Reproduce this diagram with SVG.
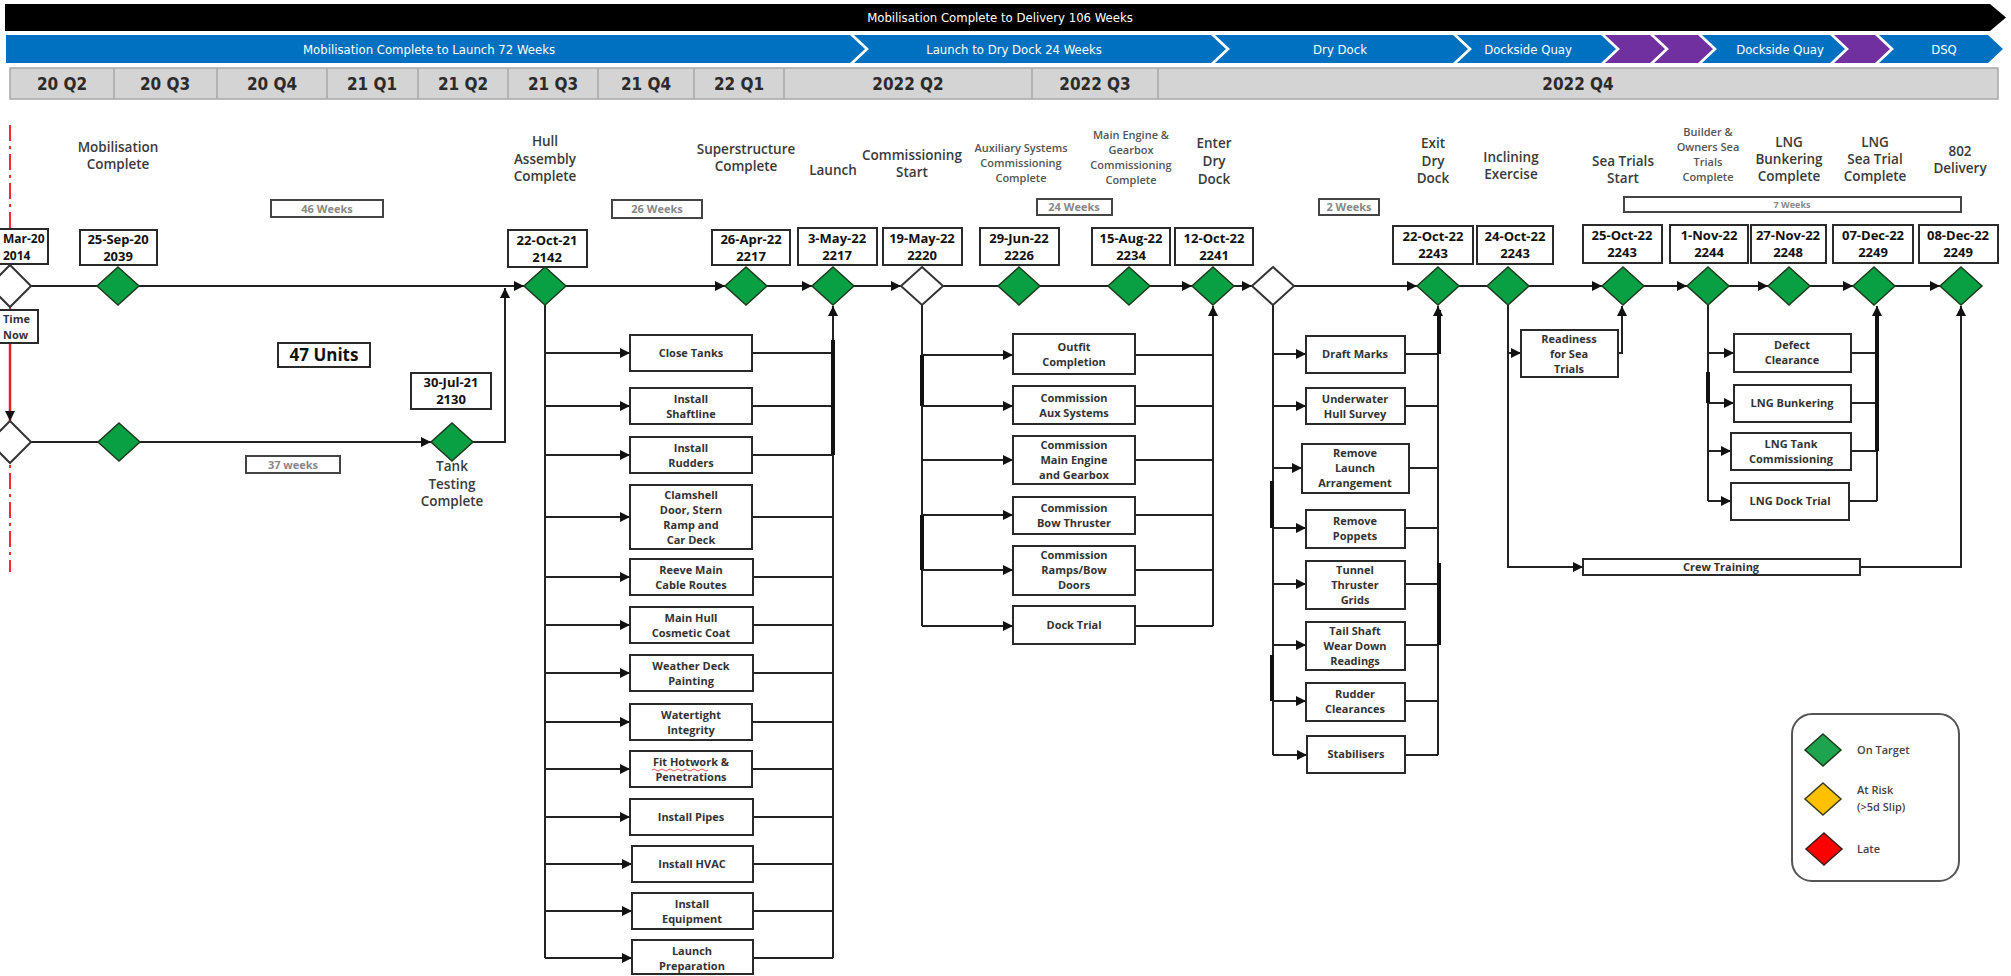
<svg xmlns="http://www.w3.org/2000/svg" width="2011" height="976" viewBox="0 0 2011 976">
<defs>
<marker id="arr" viewBox="0 0 10 10" refX="10" refY="5" markerWidth="10" markerHeight="10" markerUnits="userSpaceOnUse" orient="auto">
<path d="M0,0 L10,5 L0,10 z" fill="#111"/>
</marker>
<style>
.hdr{font-family:'Liberation Sans Narrow','DejaVu Sans Condensed','Liberation Sans',sans-serif;font-size:13px;fill:#fff;text-anchor:middle}
.q{font-family:'Liberation Sans Narrow','DejaVu Sans Condensed','Liberation Sans',sans-serif;font-size:17px;font-weight:bold;fill:#2b2b2b;text-anchor:middle}
.lbl{font-family:'Open Sans','Liberation Sans',sans-serif;font-size:13.5px;font-weight:600;fill:#3a3a3a;text-anchor:middle}
.lbls{font-family:'Open Sans','Liberation Sans',sans-serif;font-size:11px;font-weight:600;fill:#555;text-anchor:middle}
.date{font-family:'Open Sans','Liberation Sans',sans-serif;font-size:13px;font-weight:bold;fill:#111;text-anchor:middle}
.task{font-family:'Open Sans','Liberation Sans',sans-serif;font-size:11px;font-weight:bold;fill:#333;text-anchor:middle}
.wk{font-family:'Open Sans','Liberation Sans',sans-serif;font-size:11px;font-weight:bold;fill:#888;text-anchor:middle}
.leg{font-family:'Open Sans','Liberation Sans',sans-serif;font-size:11px;font-weight:600;fill:#444}
.box{fill:#fff;stroke:#2a2a2a;stroke-width:2}
.wbox{fill:#fff;stroke:#444;stroke-width:2}
.g{fill:#08a043;stroke:#1d3b1d;stroke-width:1.5}
.w{fill:#fff;stroke:#333;stroke-width:2}
.c{fill:none;stroke:#222;stroke-width:2}
.ca{fill:none;stroke:#222;stroke-width:2;marker-end:url(#arr)}
.thick{fill:none;stroke:#111;stroke-width:4}
.blue{fill:#0070c0}
.purple{fill:#7030a0}
</style>
</defs>
<rect width="2011" height="976" fill="#fff"/>

<g id="header">
<polygon points="5,4 1990,4 2006,17.5 1990,31 5,31" fill="#000"/>
<text class="hdr" x="1000" y="22">Mobilisation Complete to Delivery 106 Weeks</text>
<polygon class="blue" points="6,35 850,35 865,49 850,63 6,63"/>
<polygon class="blue" points="854,35 1211,35 1226,49 1211,63 854,63 869,49"/>
<polygon class="blue" points="1215,35 1453,35 1468,49 1453,63 1215,63 1230,49"/>
<polygon class="blue" points="1457,35 1601,35 1616,49 1601,63 1457,63 1472,49"/>
<polygon class="purple" points="1605,35 1650,35 1665,49 1650,63 1605,63 1620,49"/>
<polygon class="purple" points="1654,35 1698,35 1713,49 1698,63 1654,63 1669,49"/>
<polygon class="blue" points="1702,35 1830,35 1845,49 1830,63 1702,63 1717,49"/>
<polygon class="purple" points="1834,35 1875,35 1890,49 1875,63 1834,63 1849,49"/>
<polygon class="blue" points="1879,35 1988,35 2003,49 1988,63 1879,63 1894,49"/>
<text class="hdr" x="429" y="54">Mobilisation Complete to Launch 72 Weeks</text>
<text class="hdr" x="1014" y="54">Launch to Dry Dock 24 Weeks</text>
<text class="hdr" x="1340" y="54">Dry Dock</text>
<text class="hdr" x="1528" y="54">Dockside Quay</text>
<text class="hdr" x="1780" y="54">Dockside Quay</text>
<text class="hdr" x="1944" y="54">DSQ</text>
<rect x="10" y="68" width="1988" height="31" fill="#d4d4d4" stroke="#a8a8a8" stroke-width="1.5"/>
<g stroke="#a8a8a8" stroke-width="1.5">
<line x1="114" y1="68" x2="114" y2="99"/><line x1="217" y1="68" x2="217" y2="99"/><line x1="327" y1="68" x2="327" y2="99"/><line x1="418" y1="68" x2="418" y2="99"/><line x1="508" y1="68" x2="508" y2="99"/><line x1="598" y1="68" x2="598" y2="99"/><line x1="694" y1="68" x2="694" y2="99"/><line x1="784" y1="68" x2="784" y2="99"/><line x1="1032" y1="68" x2="1032" y2="99"/><line x1="1158" y1="68" x2="1158" y2="99"/>
</g>
<text class="q" x="62" y="90">20 Q2</text>
<text class="q" x="165" y="90">20 Q3</text>
<text class="q" x="272" y="90">20 Q4</text>
<text class="q" x="372" y="90">21 Q1</text>
<text class="q" x="463" y="90">21 Q2</text>
<text class="q" x="553" y="90">21 Q3</text>
<text class="q" x="646" y="90">21 Q4</text>
<text class="q" x="739" y="90">22 Q1</text>
<text class="q" x="908" y="90">2022 Q2</text>
<text class="q" x="1095" y="90">2022 Q3</text>
<text class="q" x="1578" y="90">2022 Q4</text>
</g>

<g id="timenow">
<line x1="10" y1="125" x2="10" y2="572" stroke="#f03030" stroke-width="2" stroke-dasharray="16,5,3,5"/>
</g>

<g id="connectors">
<path class="c" d="M31,286 H97"/>
<path class="ca" d="M139,286 H524"/>
<path class="ca" d="M566,286 H725"/>
<path class="ca" d="M767,286 H812"/>
<path class="ca" d="M854,286 H901"/>
<path class="c" d="M943,286 H998"/>
<path class="c" d="M1040,286 H1108"/>
<path class="ca" d="M1150,286 H1192"/>
<path class="ca" d="M1234,286 H1252"/>
<path class="ca" d="M1294,286 H1417"/>
<path class="c" d="M1459,286 H1487"/>
<path class="ca" d="M1529,286 H1602"/>
<path class="ca" d="M1644,286 H1687"/>
<path class="ca" d="M1729,286 H1768"/>
<path class="ca" d="M1810,286 H1853"/>
<path class="ca" d="M1895,286 H1940"/>
<path class="c" d="M31,442 H98"/>
<path class="ca" d="M140,442 H431"/>
<path class="ca" d="M473,442 H505 V288"/>
<path d="M10,343 V421" fill="none" stroke="#e82020" stroke-width="2.5" marker-end="url(#arr)"/>
<path class="c" d="M545,305 V958"/>
<path class="ca" d="M545,353 H630"/><path class="ca" d="M545,406 H630"/><path class="ca" d="M545,455 H630"/><path class="ca" d="M545,517 H630"/><path class="ca" d="M545,577 H630"/><path class="ca" d="M545,625 H630"/><path class="ca" d="M545,673 H630"/><path class="ca" d="M545,722 H630"/><path class="ca" d="M545,769 H630"/><path class="ca" d="M545,817 H630"/><path class="ca" d="M545,864 H632"/><path class="ca" d="M545,911 H632"/><path class="ca" d="M545,958 H632"/>
<path class="c" d="M752,353 H833 M752,406 H833 M752,455 H833 M752,517 H833 M752,577 H833 M752,625 H833 M752,673 H833 M752,722 H833 M752,769 H833 M752,817 H833 M752,864 H833 M752,911 H833 M752,958 H833"/>
<path class="ca" d="M833,958 V306"/>
<path class="thick" d="M833,340 V455"/>
<path class="c" d="M922,305 V626"/>
<path class="thick" d="M922,355 V406 M922,515 V570"/>
<path class="ca" d="M922,355 H1013"/><path class="ca" d="M922,406 H1013"/><path class="ca" d="M922,460 H1013"/><path class="ca" d="M922,515 H1013"/><path class="ca" d="M922,570 H1013"/><path class="ca" d="M922,626 H1013"/>
<path class="c" d="M1135,355 H1213 M1135,406 H1213 M1135,460 H1213 M1135,515 H1213 M1135,570 H1213 M1135,626 H1213"/>
<path class="ca" d="M1213,626 V306"/>
<path class="c" d="M1273,305 V755"/>
<path class="thick" d="M1272,481 V528 M1272,655 V701"/>
<path class="ca" d="M1273,354 H1306"/><path class="ca" d="M1273,406 H1306"/><path class="ca" d="M1273,468 H1302"/><path class="ca" d="M1273,528 H1306"/><path class="ca" d="M1273,584 H1306"/><path class="ca" d="M1273,645 H1306"/><path class="ca" d="M1273,701 H1306"/><path class="ca" d="M1273,755 H1307"/>
<path class="c" d="M1405,354 H1438 M1405,406 H1438 M1409,468 H1438 M1405,528 H1438 M1405,584 H1438 M1405,645 H1438 M1405,701 H1438 M1405,755 H1438"/>
<path class="ca" d="M1438,755 V306"/>
<path class="thick" d="M1439,310 V354 M1439,563 V645"/>
<path class="ca" d="M1508,305 V567 H1583"/>
<path class="ca" d="M1508,353 H1521"/>
<path class="ca" d="M1618,353 H1622 V306"/>
<path class="ca" d="M1860,567 H1961 V306"/>
<path class="c" d="M1708,305 V501"/>
<path class="thick" d="M1708,372 V403"/>
<path class="ca" d="M1708,353 H1734"/><path class="ca" d="M1708,403 H1734"/><path class="ca" d="M1708,451 H1731"/><path class="ca" d="M1708,501 H1731"/>
<path class="c" d="M1851,353 H1877 M1851,403 H1877 M1851,451 H1877 M1849,501 H1877"/>
<path class="ca" d="M1877,501 V306"/>
<path class="thick" d="M1877,312 V451"/>
</g>

<g id="labels">
<text class="lbl" x="118" y="152"><tspan x="118">Mobilisation</tspan><tspan x="118" dy="17">Complete</tspan></text>
<text class="lbl" x="545" y="146"><tspan x="545">Hull</tspan><tspan x="545" dy="17.5">Assembly</tspan><tspan x="545" dy="17.5">Complete</tspan></text>
<text class="lbl" x="746" y="154"><tspan x="746">Superstructure</tspan><tspan x="746" dy="17">Complete</tspan></text>
<text class="lbl" x="833" y="175">Launch</text>
<text class="lbl" x="912" y="160"><tspan x="912">Commissioning</tspan><tspan x="912" dy="17">Start</tspan></text>
<text class="lbls" x="1021" y="152"><tspan x="1021">Auxiliary Systems</tspan><tspan x="1021" dy="15">Commissioning</tspan><tspan x="1021" dy="15">Complete</tspan></text>
<text class="lbls" x="1131" y="139"><tspan x="1131">Main Engine &amp;</tspan><tspan x="1131" dy="15">Gearbox</tspan><tspan x="1131" dy="15">Commissioning</tspan><tspan x="1131" dy="15">Complete</tspan></text>
<text class="lbl" x="1214" y="148"><tspan x="1214">Enter</tspan><tspan x="1214" dy="18">Dry</tspan><tspan x="1214" dy="18">Dock</tspan></text>
<text class="lbl" x="1433" y="148"><tspan x="1433">Exit</tspan><tspan x="1433" dy="17.5">Dry</tspan><tspan x="1433" dy="17.5">Dock</tspan></text>
<text class="lbl" x="1511" y="162"><tspan x="1511">Inclining</tspan><tspan x="1511" dy="17">Exercise</tspan></text>
<text class="lbl" x="1623" y="166"><tspan x="1623">Sea Trials</tspan><tspan x="1623" dy="17">Start</tspan></text>
<text class="lbls" x="1708" y="136"><tspan x="1708">Builder &amp;</tspan><tspan x="1708" dy="15">Owners Sea</tspan><tspan x="1708" dy="15">Trials</tspan><tspan x="1708" dy="15">Complete</tspan></text>
<text class="lbl" x="1789" y="147"><tspan x="1789">LNG</tspan><tspan x="1789" dy="17">Bunkering</tspan><tspan x="1789" dy="17">Complete</tspan></text>
<text class="lbl" x="1875" y="147"><tspan x="1875">LNG</tspan><tspan x="1875" dy="17">Sea Trial</tspan><tspan x="1875" dy="17">Complete</tspan></text>
<text class="lbl" x="1960" y="156"><tspan x="1960">802</tspan><tspan x="1960" dy="17">Delivery</tspan></text>
<text class="lbl" x="452" y="471"><tspan x="452">Tank</tspan><tspan x="452" dy="17.5">Testing</tspan><tspan x="452" dy="17.5">Complete</tspan></text>
</g>

<g id="durations">
<rect class="wbox" x="271" y="200" width="112" height="17"/><text class="wk" x="327" y="213">46 Weeks</text>
<rect class="wbox" x="612" y="200" width="90" height="18"/><text class="wk" x="657" y="213">26 Weeks</text>
<rect class="wbox" x="1037" y="199" width="75" height="16"/><text class="wk" x="1074" y="211">24 Weeks</text>
<rect class="wbox" x="1319" y="199" width="60" height="16"/><text class="wk" x="1349" y="211">2 Weeks</text>
<rect class="wbox" x="1624" y="197" width="337" height="15"/><text class="wk" x="1792" y="208" style="font-size:9px">7 Weeks</text>
<rect class="wbox" x="246" y="456" width="94" height="17"/><text class="wk" x="293" y="469">37 weeks</text>
<rect class="box" x="278" y="343" width="92" height="24"/><text x="324" y="361" style="font-family:'Open Sans','Liberation Sans',sans-serif;font-size:17px;font-weight:bold;fill:#111;text-anchor:middle">47 Units</text>
</g>

<g id="m-start">
<rect class="box" x="-40" y="229" width="88" height="35"/>
<text class="date" x="3" y="243" style="text-anchor:start;font-size:12px">Mar-20</text>
<text class="date" x="3" y="260" style="text-anchor:start;font-size:12px">2014</text>
<polygon class="w" points="10,265 31,286 10,307 -11,286"/>
<rect class="box" x="-40" y="310" width="78" height="33"/>
<text class="date" x="3" y="323" style="text-anchor:start;font-size:11px;fill:#333">Time</text>
<text class="date" x="3" y="339" style="text-anchor:start;font-size:11px;fill:#333">Now</text>
</g>
<g id="m-lower-start"><polygon class="w" points="10,421 31,442 10,463 -11,442"/></g>
<g id="m-lower-mid"><polygon class="g" points="119,423 140,442 119,461 98,442"/></g>
<g id="m-tank"><rect class="box" x="411" y="373" width="80" height="36"/><text class="date" x="451" y="387">30-Jul-21</text><text class="date" x="451" y="404">2130</text><polygon class="g" points="452,423 473,442 452,461 431,442"/></g>

<g id="m-mob"><rect class="box" x="80" y="230" width="77" height="35"/><text class="date" x="118" y="244">25-Sep-20</text><text class="date" x="118" y="261">2039</text><polygon class="g" points="118,267 139,286 118,305 97,286"/></g>
<g id="m-hull"><rect class="box" x="508" y="230" width="79" height="37"/><text class="date" x="547" y="245">22-Oct-21</text><text class="date" x="547" y="262">2142</text><polygon class="g" points="545,267 566,286 545,305 524,286"/></g>
<g id="m-super"><rect class="box" x="712" y="230" width="78" height="35"/><text class="date" x="751" y="244">26-Apr-22</text><text class="date" x="751" y="261">2217</text><polygon class="g" points="746,267 767,286 746,305 725,286"/></g>
<g id="m-launch"><rect class="box" x="798" y="228" width="79" height="37"/><text class="date" x="837" y="243">3-May-22</text><text class="date" x="837" y="260">2217</text><polygon class="g" points="833,267 854,286 833,305 812,286"/></g>
<g id="m-comm"><rect class="box" x="883" y="228" width="79" height="37"/><text class="date" x="922" y="243">19-May-22</text><text class="date" x="922" y="260">2220</text><polygon class="w" points="922,267 943,286 922,305 901,286"/></g>
<g id="m-aux"><rect class="box" x="980" y="228" width="79" height="37"/><text class="date" x="1019" y="243">29-Jun-22</text><text class="date" x="1019" y="260">2226</text><polygon class="g" points="1019,267 1040,286 1019,305 998,286"/></g>
<g id="m-me"><rect class="box" x="1092" y="228" width="78" height="37"/><text class="date" x="1131" y="243">15-Aug-22</text><text class="date" x="1131" y="260">2234</text><polygon class="g" points="1129,267 1150,286 1129,305 1108,286"/></g>
<g id="m-enter"><rect class="box" x="1175" y="228" width="78" height="37"/><text class="date" x="1214" y="243">12-Oct-22</text><text class="date" x="1214" y="260">2241</text><polygon class="g" points="1213,267 1234,286 1213,305 1192,286"/></g>
<g id="m-dd"><polygon class="w" points="1273,267 1294,286 1273,305 1252,286"/></g>
<g id="m-exit"><rect class="box" x="1393" y="226" width="80" height="38"/><text class="date" x="1433" y="241">22-Oct-22</text><text class="date" x="1433" y="258">2243</text><polygon class="g" points="1438,267 1459,286 1438,305 1417,286"/></g>
<g id="m-incl"><rect class="box" x="1477" y="226" width="76" height="38"/><text class="date" x="1515" y="241">24-Oct-22</text><text class="date" x="1515" y="258">2243</text><polygon class="g" points="1508,267 1529,286 1508,305 1487,286"/></g>
<g id="m-sea"><rect class="box" x="1583" y="225" width="79" height="38"/><text class="date" x="1622" y="240">25-Oct-22</text><text class="date" x="1622" y="257">2243</text><polygon class="g" points="1623,267 1644,286 1623,305 1602,286"/></g>
<g id="m-builder"><rect class="box" x="1670" y="225" width="78" height="38"/><text class="date" x="1709" y="240">1-Nov-22</text><text class="date" x="1709" y="257">2244</text><polygon class="g" points="1708,267 1729,286 1708,305 1687,286"/></g>
<g id="m-bunk"><rect class="box" x="1751" y="225" width="75" height="38"/><text class="date" x="1788" y="240">27-Nov-22</text><text class="date" x="1788" y="257">2248</text><polygon class="g" points="1789,267 1810,286 1789,305 1768,286"/></g>
<g id="m-lngsea"><rect class="box" x="1833" y="225" width="80" height="38"/><text class="date" x="1873" y="240">07-Dec-22</text><text class="date" x="1873" y="257">2249</text><polygon class="g" points="1874,267 1895,286 1874,305 1853,286"/></g>
<g id="m-deliv"><rect class="box" x="1919" y="225" width="79" height="38"/><text class="date" x="1958" y="240">08-Dec-22</text><text class="date" x="1958" y="257">2249</text><polygon class="g" points="1961,267 1982,286 1961,305 1940,286"/></g>

<g id="t-close"><rect class="box" x="630" y="335" width="122" height="36"/><text class="task" x="691" y="357">Close Tanks</text></g>
<g id="t-shaft"><rect class="box" x="630" y="388" width="122" height="36"/><text class="task" x="691" y="403">Install</text><text class="task" x="691" y="418">Shaftline</text></g>
<g id="t-rudders"><rect class="box" x="630" y="437" width="122" height="36"/><text class="task" x="691" y="452">Install</text><text class="task" x="691" y="467">Rudders</text></g>
<g id="t-clam"><rect class="box" x="630" y="485" width="122" height="64"/><text class="task" x="691" y="499">Clamshell</text><text class="task" x="691" y="514">Door, Stern</text><text class="task" x="691" y="529">Ramp and</text><text class="task" x="691" y="544">Car Deck</text></g>
<g id="t-reeve"><rect class="box" x="630" y="559" width="123" height="36"/><text class="task" x="691" y="574">Reeve Main</text><text class="task" x="691" y="589">Cable Routes</text></g>
<g id="t-mainhull"><rect class="box" x="630" y="607" width="123" height="36"/><text class="task" x="691" y="622">Main Hull</text><text class="task" x="691" y="637">Cosmetic Coat</text></g>
<g id="t-weather"><rect class="box" x="630" y="655" width="123" height="36"/><text class="task" x="691" y="670">Weather Deck</text><text class="task" x="691" y="685">Painting</text></g>
<g id="t-water"><rect class="box" x="630" y="704" width="122" height="36"/><text class="task" x="691" y="719">Watertight</text><text class="task" x="691" y="734">Integrity</text></g>
<g id="t-hot"><rect class="box" x="630" y="751" width="122" height="36"/><text class="task" x="691" y="766">Fit Hotwork &amp;</text><text class="task" x="691" y="781">Penetrations</text><path d="M652,770 q2,-2 4,0 t4,0 t4,0 t4,0 t4,0 t4,0 t4,0 t4,0 t4,0 t4,0 t4,0 t4,0 t4,0 t4,0" fill="none" stroke="#e02020" stroke-width="0.8"/></g>
<g id="t-pipes"><rect class="box" x="630" y="799" width="123" height="36"/><text class="task" x="691" y="821">Install Pipes</text></g>
<g id="t-hvac"><rect class="box" x="632" y="846" width="121" height="36"/><text class="task" x="692" y="868">Install HVAC</text></g>
<g id="t-equip"><rect class="box" x="632" y="893" width="121" height="36"/><text class="task" x="692" y="908">Install</text><text class="task" x="692" y="923">Equipment</text></g>
<g id="t-launchprep"><rect class="box" x="632" y="940" width="121" height="34"/><text class="task" x="692" y="955">Launch</text><text class="task" x="692" y="970">Preparation</text></g>

<g id="t-outfit"><rect class="box" x="1013" y="334" width="122" height="40"/><text class="task" x="1074" y="351">Outfit</text><text class="task" x="1074" y="366">Completion</text></g>
<g id="t-caux"><rect class="box" x="1013" y="386" width="122" height="38"/><text class="task" x="1074" y="402">Commission</text><text class="task" x="1074" y="417">Aux Systems</text></g>
<g id="t-cme"><rect class="box" x="1013" y="436" width="122" height="48"/><text class="task" x="1074" y="449">Commission</text><text class="task" x="1074" y="464">Main Engine</text><text class="task" x="1074" y="479">and Gearbox</text></g>
<g id="t-cbow"><rect class="box" x="1013" y="497" width="122" height="37"/><text class="task" x="1074" y="512">Commission</text><text class="task" x="1074" y="527">Bow Thruster</text></g>
<g id="t-cramps"><rect class="box" x="1013" y="546" width="122" height="49"/><text class="task" x="1074" y="559">Commission</text><text class="task" x="1074" y="574">Ramps/Bow</text><text class="task" x="1074" y="589">Doors</text></g>
<g id="t-dock"><rect class="box" x="1013" y="606" width="122" height="38"/><text class="task" x="1074" y="629">Dock Trial</text></g>

<g id="t-draft"><rect class="box" x="1306" y="336" width="99" height="37"/><text class="task" x="1355" y="358">Draft Marks</text></g>
<g id="t-uw"><rect class="box" x="1306" y="388" width="99" height="36"/><text class="task" x="1355" y="403">Underwater</text><text class="task" x="1355" y="418">Hull Survey</text></g>
<g id="t-rla"><rect class="box" x="1302" y="444" width="107" height="49"/><text class="task" x="1355" y="457">Remove</text><text class="task" x="1355" y="472">Launch</text><text class="task" x="1355" y="487">Arrangement</text></g>
<g id="t-pop"><rect class="box" x="1306" y="510" width="99" height="38"/><text class="task" x="1355" y="525">Remove</text><text class="task" x="1355" y="540">Poppets</text></g>
<g id="t-tunnel"><rect class="box" x="1306" y="561" width="99" height="48"/><text class="task" x="1355" y="574">Tunnel</text><text class="task" x="1355" y="589">Thruster</text><text class="task" x="1355" y="604">Grids</text></g>
<g id="t-tail"><rect class="box" x="1306" y="622" width="99" height="48"/><text class="task" x="1355" y="635">Tail Shaft</text><text class="task" x="1355" y="650">Wear Down</text><text class="task" x="1355" y="665">Readings</text></g>
<g id="t-rudclear"><rect class="box" x="1306" y="683" width="99" height="38"/><text class="task" x="1355" y="698">Rudder</text><text class="task" x="1355" y="713">Clearances</text></g>
<g id="t-stab"><rect class="box" x="1307" y="736" width="98" height="37"/><text class="task" x="1356" y="758">Stabilisers</text></g>

<g id="t-ready"><rect class="box" x="1521" y="330" width="97" height="47"/><text class="task" x="1569" y="343">Readiness</text><text class="task" x="1569" y="358">for Sea</text><text class="task" x="1569" y="373">Trials</text></g>
<g id="t-crew"><rect class="box" x="1583" y="559" width="277" height="16"/><text class="task" x="1721" y="571">Crew Training</text></g>
<g id="t-defect"><rect class="box" x="1734" y="334" width="117" height="38"/><text class="task" x="1792" y="349">Defect</text><text class="task" x="1792" y="364">Clearance</text></g>
<g id="t-lngb"><rect class="box" x="1734" y="385" width="117" height="37"/><text class="task" x="1792" y="407">LNG Bunkering</text></g>
<g id="t-lngt"><rect class="box" x="1731" y="433" width="120" height="37"/><text class="task" x="1791" y="448">LNG Tank</text><text class="task" x="1791" y="463">Commissioning</text></g>
<g id="t-lngd"><rect class="box" x="1731" y="483" width="118" height="37"/><text class="task" x="1790" y="505">LNG Dock Trial</text></g>

<g id="legend">
<rect x="1792" y="714" width="167" height="167" rx="20" fill="#fff" stroke="#555" stroke-width="2"/>
<polygon points="1823,734 1841,750 1823,766 1805,750" fill="#1ea34f" stroke="#1d3b1d" stroke-width="1.5"/>
<text class="leg" x="1857" y="754">On Target</text>
<polygon points="1823,783 1841,799 1823,815 1805,799" fill="#ffc000" stroke="#3b3b1d" stroke-width="1.5"/>
<text class="leg" x="1857" y="794">At Risk</text>
<text class="leg" x="1857" y="811">(&gt;5d Slip)</text>
<polygon points="1824,833 1842,849 1824,865 1806,849" fill="#ff0000" stroke="#3b1d1d" stroke-width="1.5"/>
<text class="leg" x="1857" y="853">Late</text>
</g>
</svg>
